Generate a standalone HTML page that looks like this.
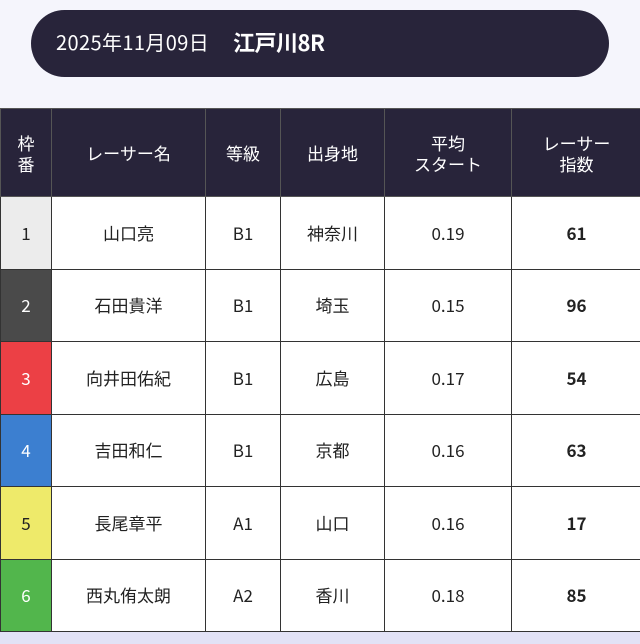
<!DOCTYPE html>
<html><head><meta charset="utf-8"><style>
body{margin:0;width:640px;height:644px;background:#f5f5fc;font-family:"Noto Sans CJK JP",sans-serif;position:relative;overflow:hidden}
.pill{position:absolute;left:31px;top:10px;width:578px;height:67px;background:#28243a;border-radius:34px;color:#fff}
.pill .d{position:absolute;left:25px;top:18px;font-size:20px;line-height:28px;letter-spacing:0.4px}
.pill .t{position:absolute;left:202px;top:17px;font-size:22px;line-height:30px;font-weight:bold;letter-spacing:-0.5px}
.bot{position:absolute;left:0;top:632px;width:640px;height:12px;background:#e2e2f6}
table{position:absolute;left:0;top:108px;border-collapse:collapse;width:641px;table-layout:fixed}
td,th{border:1.5px solid #333;text-align:center;padding:0;font-size:17px;color:#222;line-height:22px}
th{background:#28243a;color:#fff;font-weight:normal;height:87px;line-height:21px;border-color:#555}
td{background:#fff;height:71.5px}
td.b{font-weight:bold}
</style></head><body>
<div class="pill"><span class="d">2025年11月09日</span><span class="t">江戸川8R</span></div>
<table>
<colgroup><col style="width:51px"><col style="width:154px"><col style="width:75px"><col style="width:104px"><col style="width:127px"><col style="width:130px"></colgroup>
<tr><th>枠<br>番</th><th>レーサー名</th><th>等級</th><th>出身地</th><th>平均<br>スタート</th><th>レーサー<br>指数</th></tr>
<tr><td style="background:#ececec">1</td><td>山口亮</td><td>B1</td><td>神奈川</td><td>0.19</td><td class="b">61</td></tr>
<tr><td style="background:#4a4a4a;color:#fff">2</td><td>石田貴洋</td><td>B1</td><td>埼玉</td><td>0.15</td><td class="b">96</td></tr>
<tr><td style="background:#ec4045;color:#fff">3</td><td>向井田佑紀</td><td>B1</td><td>広島</td><td>0.17</td><td class="b">54</td></tr>
<tr><td style="background:#3c7fd0;color:#fff">4</td><td>吉田和仁</td><td>B1</td><td>京都</td><td>0.16</td><td class="b">63</td></tr>
<tr><td style="background:#eeea6a">5</td><td>長尾章平</td><td>A1</td><td>山口</td><td>0.16</td><td class="b">17</td></tr>
<tr><td style="background:#52b64c;color:#fff">6</td><td>西丸侑太朗</td><td>A2</td><td>香川</td><td>0.18</td><td class="b">85</td></tr>
</table>
<div class="bot"></div>
</body></html>
